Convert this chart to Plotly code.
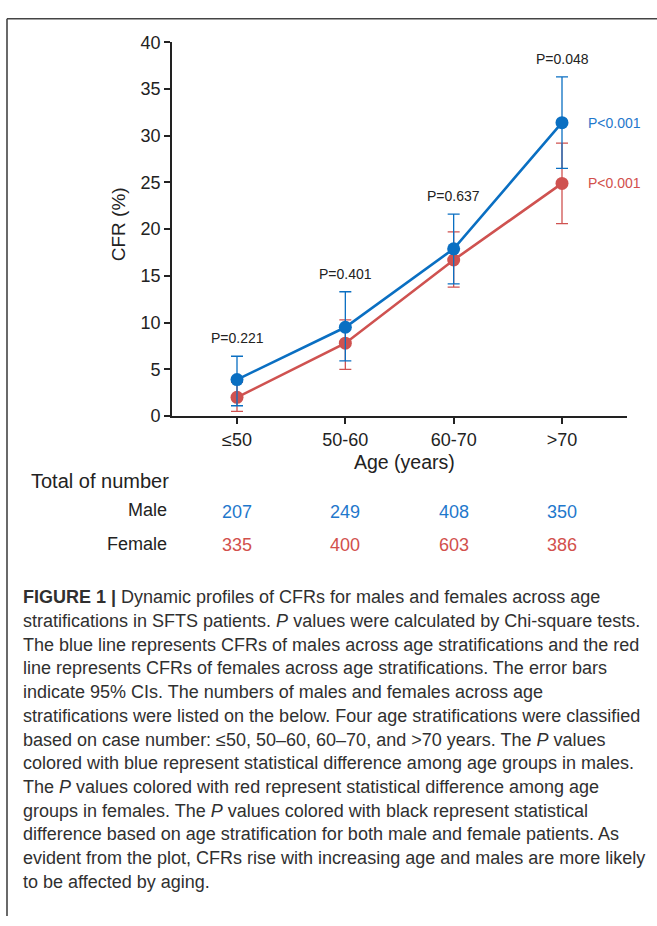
import plotly.graph_objects as go

# ---------------- data ----------------
age_groups = ["≤50", "50-60", "60-70", ">70"]
male_cfr = [3.9, 9.5, 17.9, 31.4]
male_ci_low = [1.1, 5.9, 14.15, 26.5]
male_ci_high = [6.4, 13.3, 21.6, 36.3]
female_cfr = [2.0, 7.8, 16.7, 24.9]
female_ci_low = [0.5, 5.0, 13.8, 20.6]
female_ci_high = [3.6, 10.3, 19.7, 29.2]
male_n = [207, 249, 408, 350]
female_n = [335, 400, 603, 386]
p_overall = ["P=0.221", "P=0.401", "P=0.637", "P=0.048"]
p_male_trend = "P&lt;0.001"
p_female_trend = "P&lt;0.001"
y_ticks = [0, 5, 10, 15, 20, 25, 30, 35, 40]

caption_lines = [
    "<b>FIGURE 1 |</b> Dynamic profiles of CFRs for males and females across age",
    "stratifications in SFTS patients. <i>P</i> values were calculated by Chi-square tests.",
    "The blue line represents CFRs of males across age stratifications and the red",
    "line represents CFRs of females across age stratifications. The error bars",
    "indicate 95% CIs. The numbers of males and females across age",
    "stratifications were listed on the below. Four age stratifications were classified",
    "based on case number: ≤50, 50–60, 60–70, and &gt;70 years. The <i>P</i> values",
    "colored with blue represent statistical difference among age groups in males.",
    "The <i>P</i> values colored with red represent statistical difference among age",
    "groups in females. The <i>P</i> values colored with black represent statistical",
    "difference based on age stratification for both male and female patients. As",
    "evident from the plot, CFRs rise with increasing age and males are more likely",
    "to be affected by aging.",
]

# ---------------- style ----------------
W, H = 657, 926
BLUE = "#0a6fc2"
RED = "#cf5250"
BLUE_T = "#1f78cc"
RED_T = "#d2504c"
INK = "#222222"
FONT = "Liberation Sans, Arial, sans-serif"

def px_x(x):
    return x / W

def px_y(y):
    return 1 - y / H

xidx = list(range(len(age_groups)))

fig = go.Figure()

def add_series(vals, lo, hi, color):
    fig.add_trace(go.Scatter(
        x=xidx, y=vals, mode="lines+markers",
        line=dict(color=color, width=2.6),
        marker=dict(color=color, size=13),
        error_y=dict(type="data", symmetric=False,
                     array=[h - v for h, v in zip(hi, vals)],
                     arrayminus=[v - l for v, l in zip(vals, lo)],
                     color=color, thickness=1.3, width=6),
        showlegend=False, hoverinfo="skip",
    ))

add_series(female_cfr, female_ci_low, female_ci_high, RED)
add_series(male_cfr, male_ci_low, male_ci_high, BLUE)

annotations = []
for i, (p, hi) in enumerate(zip(p_overall, male_ci_high)):
    annotations.append(dict(x=i, y=hi, xref="x", yref="y", text=p,
                            showarrow=False, yanchor="bottom", yshift=8,
                            font=dict(size=14, color=INK, family=FONT)))
annotations.append(dict(x=xidx[-1], y=male_cfr[-1], xref="x", yref="y",
                        text=p_male_trend, showarrow=False, xanchor="left",
                        xshift=24, font=dict(size=14, color=BLUE_T, family=FONT)))
annotations.append(dict(x=xidx[-1], y=female_cfr[-1], xref="x", yref="y",
                        text=p_female_trend, showarrow=False, xanchor="left",
                        xshift=24, font=dict(size=14, color=RED_T, family=FONT)))

annotations.append(dict(x=px_x(118), y=px_y(219), xref="paper", yref="paper",
                        text="CFR (%)", textangle=-90, showarrow=False,
                        xanchor="center", yanchor="middle",
                        font=dict(size=19, color=INK, family=FONT)))
annotations.append(dict(x=px_x(404), y=px_y(462), xref="paper", yref="paper",
                        text="Age (years)", showarrow=False,
                        xanchor="center", yanchor="middle",
                        font=dict(size=19.5, color=INK, family=FONT)))

annotations.append(dict(x=px_x(29), y=px_y(481), xref="paper", yref="paper",
                        text="Total of number", showarrow=False, xanchor="left",
                        yanchor="middle",
                        font=dict(size=20, color=INK, family=FONT)))
annotations.append(dict(x=px_x(169), y=px_y(511), xref="paper", yref="paper",
                        text="Male", showarrow=False, xanchor="right",
                        yanchor="middle",
                        font=dict(size=18, color=INK, family=FONT)))
annotations.append(dict(x=px_x(169), y=px_y(546), xref="paper", yref="paper",
                        text="Female", showarrow=False, xanchor="right",
                        yanchor="middle",
                        font=dict(size=18, color=INK, family=FONT)))
for i, n in enumerate(male_n):
    annotations.append(dict(x=i, y=px_y(513), xref="x", yref="paper",
                            text=str(n), showarrow=False, yanchor="middle",
                            font=dict(size=18, color=BLUE_T, family=FONT)))
for i, n in enumerate(female_n):
    annotations.append(dict(x=i, y=px_y(547), xref="x", yref="paper",
                            text=str(n), showarrow=False, yanchor="middle",
                            font=dict(size=18, color=RED_T, family=FONT)))

cap_y0, cap_dy = 600, 24.27
for k, line in enumerate(caption_lines):
    annotations.append(dict(x=px_x(21), y=px_y(cap_y0 + k * cap_dy),
                            xref="paper", yref="paper", text=line,
                            showarrow=False, xanchor="left", yanchor="middle",
                            font=dict(size=18, color="#303030", family=FONT)))

shapes = [
    dict(type="line", xref="paper", yref="paper", x0=px_x(7), x1=1,
         y0=px_y(9), y1=px_y(9), line=dict(color="#444444", width=1.6)),
    dict(type="line", xref="paper", yref="paper", x0=px_x(7), x1=px_x(7),
         y0=px_y(9), y1=0, line=dict(color="#444444", width=1.6)),
]

fig.update_layout(
    width=W, height=H,
    margin=dict(l=0, r=0, t=0, b=0),
    paper_bgcolor="white", plot_bgcolor="white",
    font=dict(family=FONT, color=INK),
    annotations=annotations,
    shapes=shapes,
    xaxis=dict(domain=[px_x(172), px_x(627)], range=[-0.6, 3.6],
               tickmode="array", tickvals=xidx, ticktext=age_groups,
               showline=True, linecolor=INK, linewidth=1.8,
               ticks="outside", ticklen=6, tickwidth=1.5, tickcolor=INK,
               showgrid=False, zeroline=False,
               tickfont=dict(size=18, color=INK, family=FONT)),
    yaxis=dict(domain=[px_y(415), px_y(33)], range=[0, 40],
               tickmode="array", tickvals=y_ticks,
               showline=True, linecolor=INK, linewidth=1.8,
               ticks="outside", ticklen=6, tickwidth=1.5, tickcolor=INK,
               showgrid=False, zeroline=False,
               tickfont=dict(size=18, color=INK, family=FONT)),
)

fig.write_html("out.html")
